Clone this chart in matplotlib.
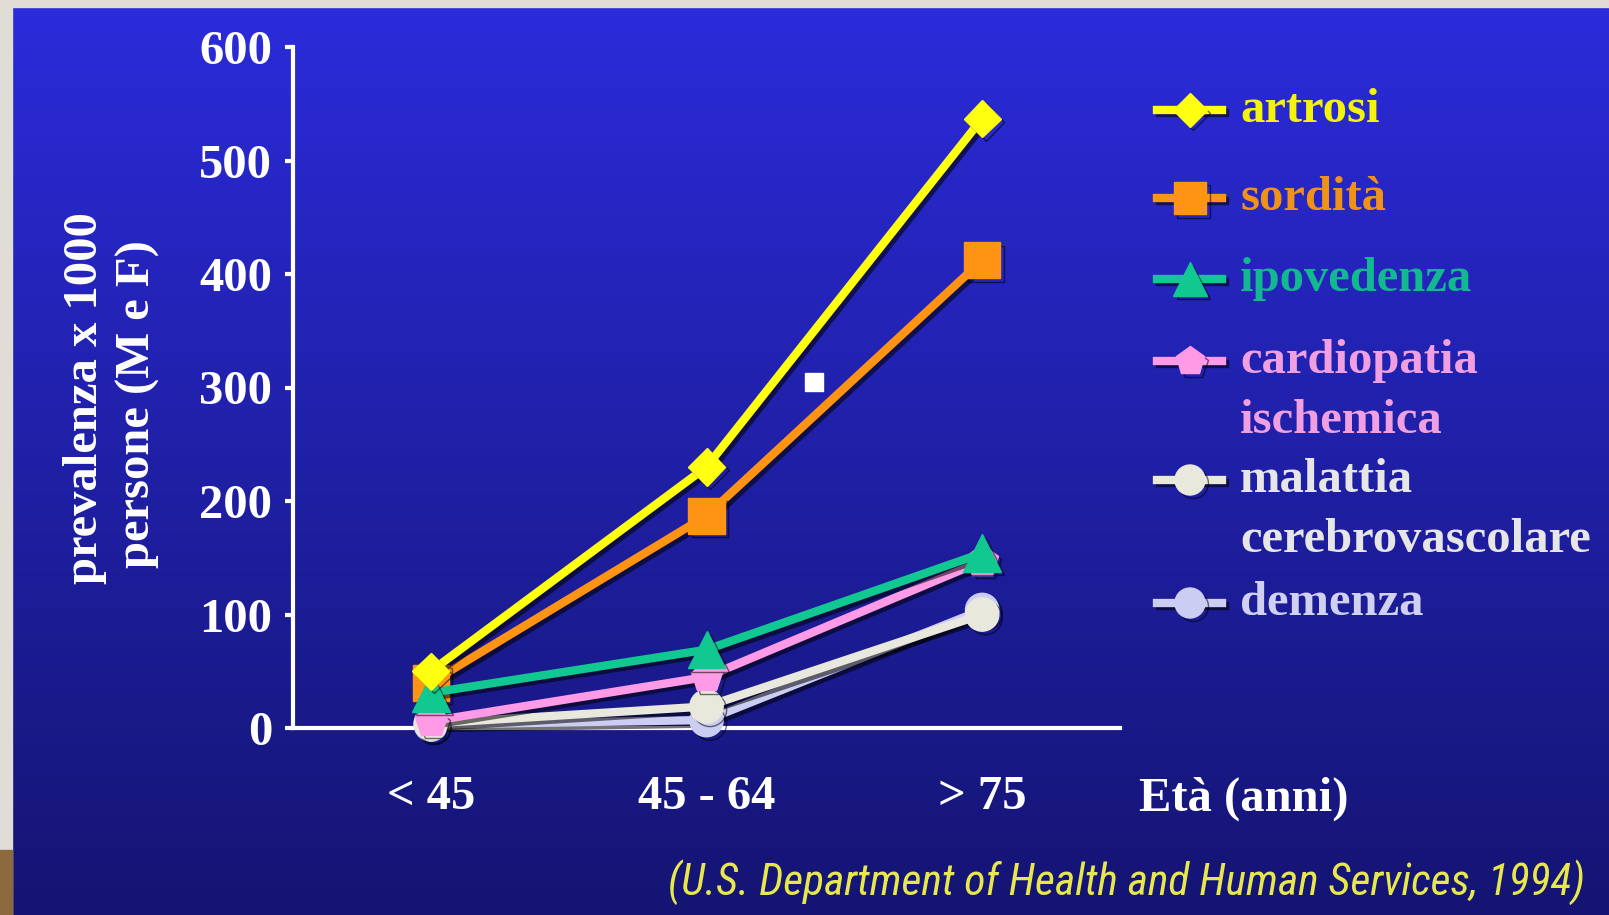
import matplotlib
matplotlib.use('Agg')
import numpy as np
import matplotlib.pyplot as plt
import matplotlib.patheffects as pe
from matplotlib import font_manager as fm
from matplotlib.lines import Line2D
from matplotlib.patches import Rectangle


age_groups = ['< 45', '45 - 64', '> 75']
y_ticks = [0, 100, 200, 300, 400, 500, 600]

artrosi = [50, 230, 537]
sordita = [40, 187, 412]
ipovedenza = [31, 69, 154]
cardiopatia = [6, 45, 147]
cerebrovascolare = [4, 19, 100]
demenza = [3, 7, 104]

series_names = ['artrosi', 'sordità', 'ipovedenza', 'cardiopatia\nischemica',
                'malattia\ncerebrovascolare', 'demenza']
series_values = [artrosi, sordita, ipovedenza, cardiopatia, cerebrovascolare, demenza]

# stray white square sitting between the two top curves
stray_x = [1.39]
stray_y = [305]

source = '(U.S. Department of Health and Human Services, 1994)'

LINE_COLORS = ['#ffff10', '#ff9414', '#10c890', '#ff9ae6', '#e8e8dc', '#cccdf2']
TEXT_COLORS = ['#f4f40a', '#f09218', '#12b890', '#f0a0e0', '#e6e6e6', '#d0d0f2']
MARKERS = ['D', 's', '^', 'p', 'o', 'o']
MSIZES = [19, 26, 27, 24, 24, 24]
ZORDER = [8, 5, 7, 6, 4, 3]

SERIF = 'Liberation Serif'

# a condensed sans for the citation, if one is around
installed = {f.name for f in fm.fontManager.ttflist}
NARROW = 'Liberation Sans'
NARROW_STRETCH = 'normal'
for fam in ['Liberation Sans Narrow', 'Roboto Condensed', 'Open Sans Condensed',
            'DejaVu Sans Condensed']:
    if fam in installed:
        NARROW = fam
        break
else:
    for f in fm.fontManager.ttflist:
        if f.name == 'DejaVu Sans' and 'Condensed' in f.fname and 'Oblique' in f.fname:
            NARROW = 'DejaVu Sans'
            NARROW_STRETCH = 'condensed'
            break

W, H = 1609, 915
fig = plt.figure(figsize=(W / 100, H / 100), dpi=100)

# slide background: blue, bright at the top and darker towards the bottom
bg = fig.add_axes([0, 0, 1, 1])
top = np.array([0.17, 0.17, 0.86])
bottom = np.array([0.08, 0.08, 0.45])
t = np.linspace(0, 1, 256)[:, None, None]
grad = top * (1 - t) + bottom * t
bg.imshow(grad, aspect='auto', extent=[0, 1, 0, 1], interpolation='bilinear')
bg.set_xlim(0, 1)
bg.set_ylim(0, 1)
bg.axis('off')

# grey frame on the left and top, wood showing at the bottom left
fig.patches.append(Rectangle((0, 0), 12 / W, 1, transform=fig.transFigure,
                             color='#e0ddd6', zorder=1))
fig.patches.append(Rectangle((0, 1 - 7 / H), 1, 7 / H, transform=fig.transFigure,
                             color='#e0ddd6', zorder=1))
fig.patches.append(Rectangle((0, 0), 12 / W, 65 / H, transform=fig.transFigure,
                             color='#8c6a3e', zorder=1))

ax = fig.add_axes([293 / W, 187 / H, 827 / W, 681 / H])
ax.set_facecolor('none')
ax.set_xlim(-0.5, 2.5)
ax.set_ylim(0, 600)

shadow = [pe.SimpleLineShadow(offset=(2.5, -2.5), shadow_color='black', alpha=0.55),
          pe.Normal()]

x = np.arange(len(age_groups))
for vals, col, mk, ms, z in zip(series_values, LINE_COLORS, MARKERS, MSIZES, ZORDER):
    ax.plot(x, vals, color=col, lw=6, marker=mk, markersize=ms,
            markerfacecolor=col, markeredgecolor=col, clip_on=False,
            zorder=z, path_effects=shadow)

ax.plot(stray_x, stray_y, 's', color='white', markersize=13, zorder=9)

for side in ['top', 'right']:
    ax.spines[side].set_visible(False)
for side in ['left', 'bottom']:
    ax.spines[side].set_color('white')
    ax.spines[side].set_linewidth(3)

ax.set_yticks(y_ticks)
ax.set_yticklabels([str(v) for v in y_ticks], family=SERIF, fontweight='bold',
                   fontsize=35, color='white')
ax.set_xticks(x)
ax.set_xticklabels(age_groups, family=SERIF, fontweight='bold',
                   fontsize=35, color='white')
ax.tick_params(axis='y', direction='out', length=6, width=3, color='white', pad=9)
ax.tick_params(axis='x', length=0, pad=34)

fig.text(1139 / W, 1 - 799 / H, 'Età (anni)', family=SERIF, fontweight='bold',
         fontsize=35, color='white', ha='left', va='center')

fig.text(85 / W, 1 - 398 / H, 'prevalenza x 1000', family=SERIF, fontweight='bold',
         fontsize=35, color='white', rotation=90, ha='center', va='center')
fig.text(138 / W, 1 - 404 / H, 'persone (M e F)', family=SERIF, fontweight='bold',
         fontsize=35, color='white', rotation=90, ha='center', va='center')

# legend drawn by hand so the marker sits on the first line of two-line labels
legend_rows = [110, 198, 279, 361, 480, 603]
line_gap = 60
for name, row, lc, tc, mk, ms in zip(series_names, legend_rows, LINE_COLORS,
                                     TEXT_COLORS, MARKERS, MSIZES):
    yf = 1 - row / H
    handle = Line2D([1157 / W, 1190 / W, 1222 / W], [yf, yf, yf],
                    transform=fig.transFigure, color=lc, lw=6, marker=mk,
                    markersize=ms * 0.9, markevery=[1], markerfacecolor=lc,
                    markeredgecolor=lc, path_effects=shadow)
    fig.add_artist(handle)
    for i, part in enumerate(name.split('\n')):
        fig.text(1240 / W, 1 - (row + i * line_gap) / H, part, family=SERIF,
                 fontweight='bold', fontsize=35, color=tc, ha='left', va='center')

# citation squeezed to span 669..1585 px
cite = fig.text(1585 / W, 1 - 882 / H, source, family=NARROW, stretch=NARROW_STRETCH,
                style='italic', fontsize=30, color='#e8e84c', ha='right', va='center')
renderer = fig.canvas.get_renderer()
width = cite.get_window_extent(renderer).width
cite.set_fontsize(30 * 916 / width)

fig.savefig('out.png', dpi=100)
